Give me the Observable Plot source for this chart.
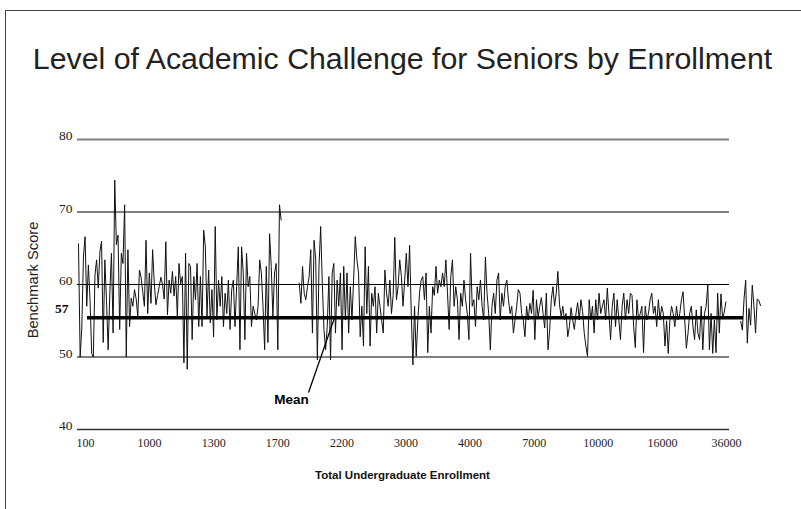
<!DOCTYPE html>
<html><head><meta charset="utf-8">
<script src="https://cdn.jsdelivr.net/npm/d3@7"></script>
<script src="https://cdn.jsdelivr.net/npm/@observablehq/plot@0.6"></script>
<style>
body{margin:0;background:#fff;}
#wrap{position:relative;width:801px;height:509px;overflow:hidden;background:#fff;}
#frame{position:absolute;left:5px;top:10px;width:820px;height:520px;border-left:1px solid #444;border-top:1px solid #444;}
#chart{position:absolute;left:0;top:0;}
#title{position:absolute;left:2px;width:801px;top:44px;text-align:center;font:30.3px "Liberation Sans",Arial,sans-serif;line-height:1;color:#222;white-space:nowrap;}
#xlabel{position:absolute;left:2px;width:801px;top:470px;text-align:center;font:bold 11.5px "Liberation Sans",Arial,sans-serif;line-height:1;color:#111;white-space:nowrap;}
#ylabel{position:absolute;left:33px;top:280px;transform:translate(-50%,-50%) rotate(-90deg);font:14.7px "Liberation Sans",Arial,sans-serif;line-height:1;color:#222;white-space:nowrap;}
</style></head>
<body>
<div id="wrap">
  <div id="frame"></div>
  <div id="chart"></div>
  <div id="title">Level of Academic Challenge for Seniors by Enrollment</div>
  <div id="xlabel">Total Undergraduate Enrollment</div>
  <div id="ylabel">Benchmark Score</div>
</div>
<script>
// ---- data (institutions ordered by enrollment) ----
const xTickLabels = ["100","1000","1300","1700","2200","3000","4000","7000","10000","16000","36000"];
const yTicks = [40, 50, 60, 70, 80];
const meanLevel = 55.4;      // where the mean line is drawn
const meanLabel = "57";      // label printed on the axis
const segmentA = [
65.6,50,54,63.8,66.6,57,62.7,57.9,50.5,50,61.3,63.4,59.5,64.5,66,52,63.4,57.7,51,58.8,64.3,53.3,74.4,65.5,66.8,53.8,64.3,62.9,71,50,64.8,54.2,
58.1,57,59.3,58,55.6,62,61,59,57,66.1,
56,61.6,57.4,64.8,60.2,57.2,58.5,59.7,61,60,
58,65.9,55.8,60.6,58.8,61.8,58.4,61.1,55.6,62.9,
60.1,61.1,49.2,64.3,48.3,62.9,62.5,52.4,61.1,57.9,
62.9,54.2,61.1,54.2,67.5,65.2,55.6,62,54.7,59.3,
52.8,68,55.1,60.6,57,61.1,54.2,58.8,56,60.6,
53.8,59.3,60.6,54.2,59.7,65.2,51,65.2,61.6,52.4,
64.3,59.7,61.1,54.2,57,56,55.1,57,63.4,61.6,
57,51,62.5,52,67,62.5,55.6,61.6,62.9,51,
71,68.9];
const gapA = Array(10).fill(null);
const segmentB1 = [
60.2,57.4,62.5,58.8,57.9,59.7,61.1,64.8,53.3,66.1,
63.4,49.6,62.5,68,60.2,53.8,51,54.2,61.1,49.6,
61.6,62.9,53.3,60.6,57,61.6,51,62.5,55.1,61.6,
53.3,59.7,55.1,60.6,66.6,63.4,61.6,52.8,57,51.5,
65.2,56,62.5,51.5,58.8,57,59.7,53.3,58.8,57,
55.1,53.3,62,58.8,57,60.6,56,58.5,66.5,57.9,
59.7,63.4,61.1,57,60.6,64.3,59.7,65.4,56,48.9,
57,50.1,55.1,58.8,60.6,61.1,57.9,61.6,50.6,57,
53.3,59.7,58.5,62.5,58.8,60.6,59.7,61.6,59.7,63.4,
58.8,53.8,61.1,63.4,57,59.7,57.9,52.4,58.8,57,
60.6,57.9,56,52.4,64.3,57,57.9,54.2,59.7,57.9,
60.6,57,55.1,63.8,58.8,56,51,57,58.8,56,
60.6,61.6,55.1,58.8,57,59.7,60.6,57.9,56,57,
53.3,55.1,57,59.3,58.8,56,55.1,52.8,57,55.1,
57.4,56];
const segmentB2 = [
59.2,
52.4,57.9,55.5,57,58.2,56,54,58.8,51,53.6,57.9,59.7,57,58.8,
61.8,57.2,55.6,57,55.1,56,52.8,54.2,56.8,55.1,53.8,56,57.5,55.1,
57.9,56.3,53.3,51.5,50.1,57.9,55.1,57,53.3,57.9,55.1,
58.8,56,57,57.9,55.1,59.5,56,52.4,57,58.8,
54.2,57.9,55.1,52.4,57,58.8,55.1,57.9,56,58.8,
58.5,54.2,51.3,57.9,55.1,56,57,50.6,57,55.1,
56,57.9,58.8,56,57,54.2,57.9,55.1,57,56,
51.5,55,50.5,55.1,57,56,54.2,57,55.1,56,
57.9,59,55.1,51.2,53.3,56,57,54.2,52.4,56.5,
53.3,52.4,57,51,56,57,60,51,56,50.5,
55.1,50.6,58.8,53.3,58.7,55.3,56.2,57.6];
const gapB = Array(8).fill(null);
const segmentC = [54.9,53.7,58,60.6,51.9,56.7,54.4,59.9,57.1,53.3,58,57.8,57.1];

const scores = [...segmentA, ...gapA, ...segmentB1, ...segmentB2, ...gapB, ...segmentC];
const N = scores.length;
const data = scores.map((v, i) => ({i, v}));

// ---- layout ----
const W = 801, H = 509;
const X0 = 78, X1 = 760;                // pixel extent of the series
const px = p => (p - X0) * (N - 1) / (X1 - X0);   // pixel -> index units
const tickIdx = xTickLabels.map((_, k) => px(85 + k * 64.1));
const tickLab = new Map(tickIdx.map((t, k) => [t, xTickLabels[k]]));
const serif = "'Liberation Serif','Times New Roman',serif";
const sans = "'Liberation Sans',Arial,sans-serif";

const chart = Plot.plot({
  width: W, height: H,
  marginLeft: X0, marginRight: W - X1, marginTop: 139, marginBottom: H - 429,
  x: {domain: [0, N - 1]},
  y: {domain: [40, 80]},
  style: {background: "transparent"},
  marks: [
    Plot.ruleY(yTicks.filter(d => d >= 70), {y: d => d, x1: px(77), x2: px(729), stroke: "#808080", strokeWidth: 1.8}),
    Plot.ruleY(yTicks.filter(d => d === 50 || d === 60), {y: d => d, x1: px(77), x2: px(729), stroke: "#000", strokeWidth: 1.1}),
    Plot.ruleY(yTicks.filter(d => d === 40), {y: d => d, x1: px(77), x2: px(729), stroke: "#333", strokeWidth: 1.6}),
    Plot.line(data, {x: "i", y: "v", stroke: "#111", strokeWidth: 1}),
    Plot.ruleY([meanLevel], {y: d => d, x1: px(87), x2: px(743), stroke: "#000", strokeWidth: 3.5}),
    Plot.link([0], {x1: px(308), y1: 45.1, x2: px(334), y2: meanLevel, stroke: "#000", strokeWidth: 1.3}),
    Plot.text(["Mean"], {x: px(291), y: 44.1, text: d => d, fontWeight: "bold", fontSize: 13.5, fontFamily: sans, fill: "#000"}),
    Plot.text([meanLabel], {x: px(68), y: 56.6, text: d => d, textAnchor: "end", fontWeight: "bold", fontSize: 13.5, fontFamily: serif, fill: "#000"}),
    Plot.axisY(yTicks, {tickSize: 0, tickPadding: 6, fontSize: 13.5, fontFamily: serif, dy: -3.5, label: null, fill: "#222"}),
    Plot.axisX(tickIdx, {tickSize: 0, tickPadding: 9, tickFormat: d => tickLab.get(d), fontSize: 12, fontFamily: serif, label: null, fill: "#222"})
  ]
});
document.getElementById("chart").appendChild(chart);
</script>
</body></html>
